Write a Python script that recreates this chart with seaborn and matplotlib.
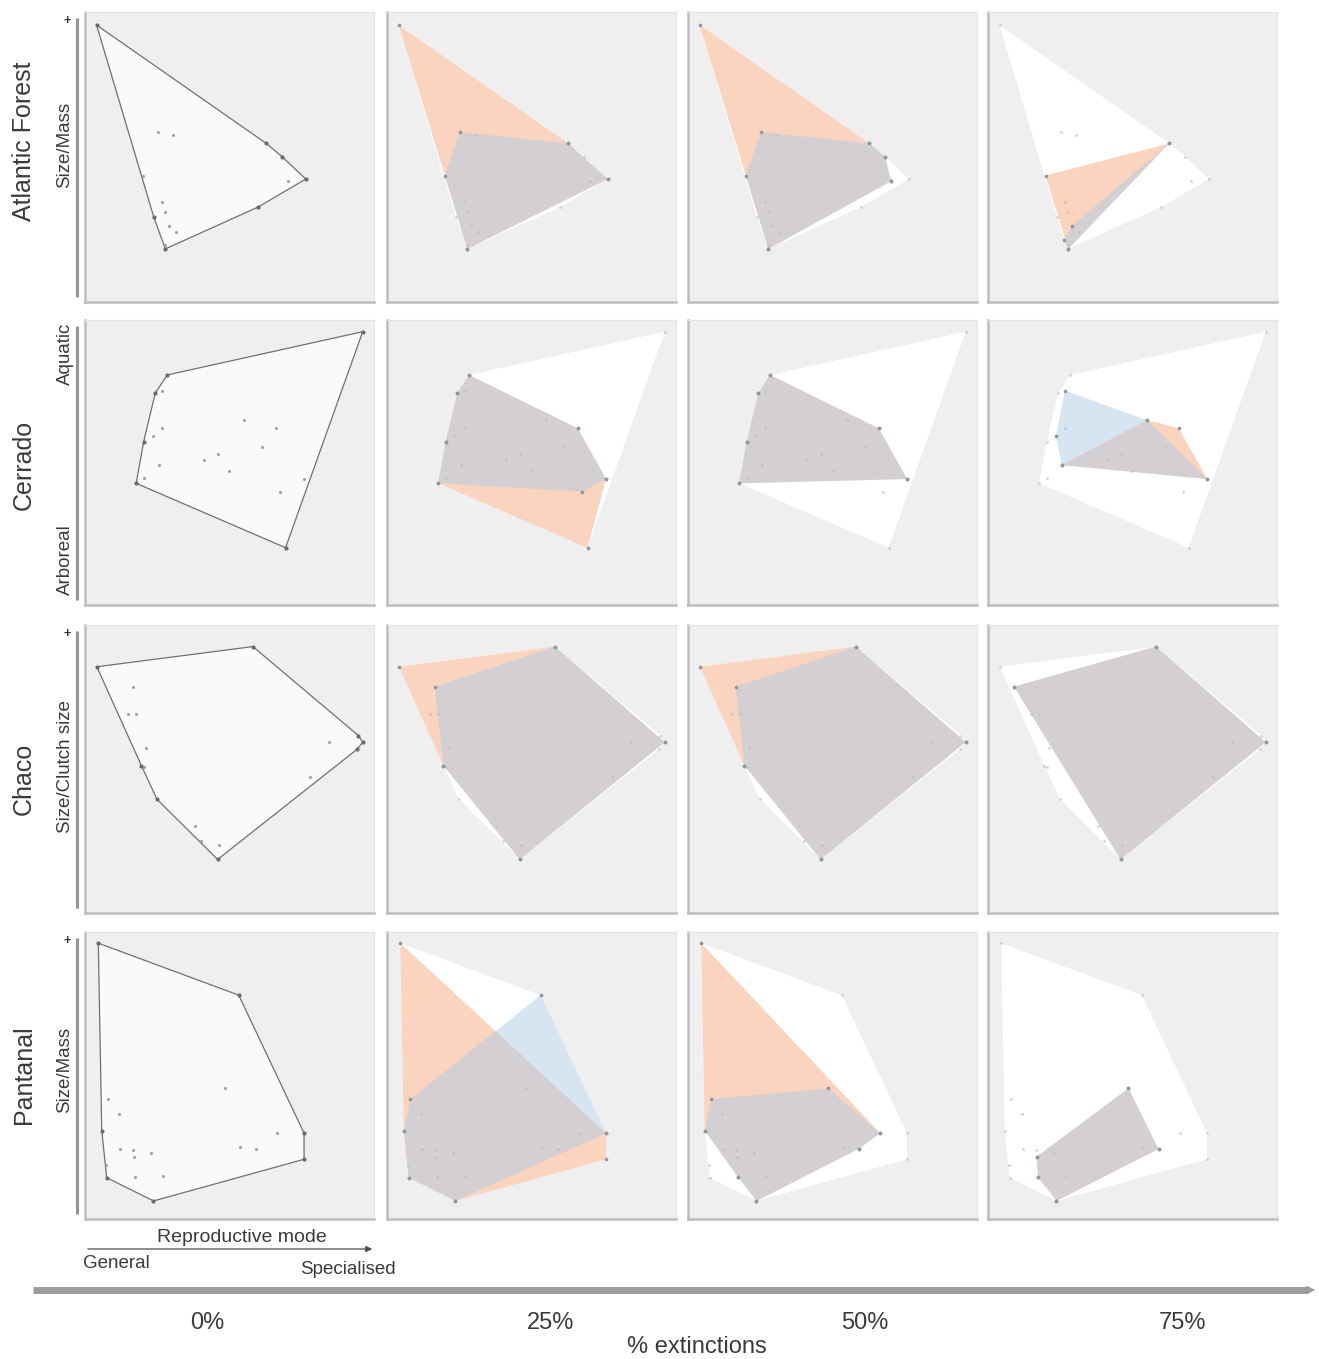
import matplotlib
matplotlib.use("Agg")
import matplotlib.pyplot as plt
import seaborn as sns
import numpy as np
import pandas as pd

sns.set_theme(style="white")
plt.rcParams['font.family'] = ['Liberation Sans', 'DejaVu Sans']

# ---------------------------------------------------------------- data
regions = ["Atlantic Forest", "Cerrado", "Chaco", "Pantanal"]
levels = ["0%", "25%", "50%", "75%"]
y_axis_names = ["Size/Mass", None, "Size/Clutch size", "Size/Mass"]

# species positions in the (reproductive mode, size) trait space, scaled 0-1
af_x = [0.040, 0.627, 0.682, 0.764, 0.703, 0.600, 0.278, 0.276, 0.238, 0.252, 0.303, 0.199, 0.268, 0.278, 0.291, 0.314]
af_y = [0.955, 0.547, 0.501, 0.424, 0.417, 0.328, 0.183, 0.197, 0.293, 0.586, 0.576, 0.436, 0.346, 0.311, 0.263, 0.242]

ce_x = [0.961, 0.284, 0.243, 0.203, 0.177, 0.694, 0.266, 0.235, 0.255, 0.203, 0.550, 0.660, 0.613, 0.459, 0.498, 0.758, 0.675, 0.411, 0.266]
ce_y = [0.959, 0.807, 0.743, 0.573, 0.427, 0.201, 0.620, 0.593, 0.491, 0.445, 0.649, 0.620, 0.555, 0.529, 0.470, 0.442, 0.398, 0.509, 0.752]

ch_x = [0.041, 0.581, 0.946, 0.961, 0.941, 0.459, 0.249, 0.150, 0.177, 0.212, 0.203, 0.380, 0.403, 0.465, 0.845, 0.779, 0.165, 0.195]
ch_y = [0.855, 0.925, 0.616, 0.593, 0.568, 0.186, 0.395, 0.690, 0.690, 0.574, 0.508, 0.303, 0.250, 0.236, 0.595, 0.473, 0.786, 0.512]

pa_x = [0.046, 0.532, 0.758, 0.758, 0.237, 0.075, 0.073, 0.058, 0.081, 0.116, 0.122, 0.166, 0.168, 0.229, 0.174, 0.270, 0.486, 0.538, 0.590, 0.665]
pa_y = [0.961, 0.780, 0.299, 0.208, 0.063, 0.144, 0.188, 0.308, 0.418, 0.366, 0.243, 0.240, 0.217, 0.229, 0.145, 0.151, 0.455, 0.250, 0.244, 0.299]

# surviving-community trait points (hull corners) for the two extinction scenarios
af_orange_25 = [(0.040, 0.955), (0.627, 0.547), (0.764, 0.424), (0.278, 0.183)]
af_blue_25 = [(0.252, 0.586), (0.627, 0.547), (0.764, 0.424), (0.278, 0.183), (0.199, 0.436)]
af_orange_50 = [(0.040, 0.955), (0.627, 0.547), (0.682, 0.501), (0.703, 0.417), (0.278, 0.183)]
af_blue_50 = [(0.252, 0.586), (0.627, 0.547), (0.682, 0.501), (0.703, 0.417), (0.278, 0.183), (0.199, 0.436)]
af_orange_75 = [(0.199, 0.436), (0.627, 0.547), (0.278, 0.183)]
af_blue_75 = [(0.627, 0.547), (0.278, 0.183), (0.262, 0.215), (0.291, 0.263)]

ce_orange_25 = [(0.284, 0.807), (0.550, 0.649), (0.660, 0.620), (0.758, 0.442), (0.694, 0.201), (0.177, 0.427), (0.203, 0.573), (0.243, 0.743)]
ce_blue_25 = [(0.284, 0.807), (0.550, 0.649), (0.660, 0.620), (0.758, 0.442), (0.675, 0.398), (0.177, 0.427), (0.203, 0.573), (0.243, 0.743)]
ce_orange_50 = [(0.284, 0.807), (0.550, 0.649), (0.660, 0.620), (0.758, 0.442), (0.177, 0.427), (0.203, 0.573), (0.243, 0.743)]
ce_blue_50 = [(0.284, 0.807), (0.550, 0.649), (0.660, 0.620), (0.758, 0.442), (0.177, 0.427), (0.203, 0.573), (0.243, 0.743)]
ce_orange_75 = [(0.255, 0.491), (0.550, 0.649), (0.660, 0.620), (0.758, 0.442)]
ce_blue_75 = [(0.266, 0.752), (0.550, 0.649), (0.758, 0.442), (0.255, 0.491), (0.235, 0.593)]

ch_orange_25 = [(0.041, 0.855), (0.581, 0.925), (0.961, 0.593), (0.459, 0.186), (0.195, 0.512)]
ch_blue_25 = [(0.165, 0.786), (0.581, 0.925), (0.961, 0.593), (0.459, 0.186), (0.195, 0.512)]
ch_orange_50 = [(0.041, 0.855), (0.581, 0.925), (0.961, 0.593), (0.459, 0.186), (0.195, 0.512)]
ch_blue_50 = [(0.165, 0.786), (0.581, 0.925), (0.961, 0.593), (0.459, 0.186), (0.195, 0.512)]
ch_orange_75 = [(0.090, 0.786), (0.581, 0.925), (0.961, 0.593), (0.459, 0.186)]
ch_blue_75 = [(0.090, 0.786), (0.581, 0.925), (0.961, 0.593), (0.459, 0.186)]

pa_orange_25 = [(0.046, 0.961), (0.758, 0.299), (0.758, 0.208), (0.237, 0.063), (0.075, 0.144), (0.073, 0.188), (0.058, 0.308)]
pa_blue_25 = [(0.081, 0.418), (0.532, 0.780), (0.758, 0.299), (0.237, 0.063), (0.075, 0.144), (0.073, 0.188), (0.058, 0.308)]
pa_orange_50 = [(0.046, 0.961), (0.665, 0.299), (0.590, 0.244), (0.237, 0.063), (0.174, 0.145), (0.058, 0.308)]
pa_blue_50 = [(0.081, 0.418), (0.486, 0.455), (0.665, 0.299), (0.590, 0.244), (0.237, 0.063), (0.174, 0.145), (0.058, 0.308)]
pa_orange_75 = [(0.486, 0.455), (0.590, 0.244), (0.237, 0.063), (0.174, 0.145), (0.168, 0.217)]
pa_blue_75 = [(0.486, 0.455), (0.590, 0.244), (0.237, 0.063), (0.174, 0.145), (0.168, 0.217)]

species = {
    "Atlantic Forest": (af_x, af_y),
    "Cerrado": (ce_x, ce_y),
    "Chaco": (ch_x, ch_y),
    "Pantanal": (pa_x, pa_y),
}
scenarios = {
    "Atlantic Forest": [(af_orange_25, af_blue_25), (af_orange_50, af_blue_50), (af_orange_75, af_blue_75)],
    "Cerrado": [(ce_orange_25, ce_blue_25), (ce_orange_50, ce_blue_50), (ce_orange_75, ce_blue_75)],
    "Chaco": [(ch_orange_25, ch_blue_25), (ch_orange_50, ch_blue_50), (ch_orange_75, ch_blue_75)],
    "Pantanal": [(pa_orange_25, pa_blue_25), (pa_orange_50, pa_blue_50), (pa_orange_75, pa_blue_75)],
}

# ---------------------------------------------------------------- helpers
def convex_hull(pts):
    pts = sorted(set(map(tuple, pts)))
    if len(pts) < 3:
        return pts

    def cross(o, a, b):
        return (a[0] - o[0]) * (b[1] - o[1]) - (a[1] - o[1]) * (b[0] - o[0])

    lower, upper = [], []
    for p in pts:
        while len(lower) >= 2 and cross(lower[-2], lower[-1], p) <= 0:
            lower.pop()
        lower.append(p)
    for p in reversed(pts):
        while len(upper) >= 2 and cross(upper[-2], upper[-1], p) <= 0:
            upper.pop()
        upper.append(p)
    return lower[:-1] + upper[:-1]


PANEL_BG = "#efefef"
ORANGE = "#f5a070"
BLUE = "#b0cbe6"

# ---------------------------------------------------------------- layout (pixels)
W_PX, H_PX = 1319, 1359
fig = plt.figure(figsize=(W_PX / 100, H_PX / 100), dpi=100)
fig.patch.set_facecolor("white")

col_left = [85, 387, 688, 988]
panel_w = 289
row_top = [12, 320, 625, 932]
row_h = [290, 285, 288, 287]
row_label_y = [141, 465, 779, 1075]
axis_label_y = [145, None, 767, 1070]


def style_panel(ax):
    ax.set_facecolor(PANEL_BG)
    ax.set_xlim(0, 1)
    ax.set_ylim(0, 1)
    ax.set_xticks([])
    ax.set_yticks([])
    for side in ("left", "bottom"):
        ax.spines[side].set_color("#bdbdbd")
        ax.spines[side].set_linewidth(1.8)
    for side in ("top", "right"):
        ax.spines[side].set_color("#e4e4e4")
        ax.spines[side].set_linewidth(0.8)


for r, region in enumerate(regions):
    sx, sy = species[region]
    pts = list(zip(sx, sy))
    full_hull = convex_hull(pts)
    hx = [p[0] for p in full_hull]
    hy = [p[1] for p in full_hull]
    df = pd.DataFrame({"mode": sx, "size": sy})

    for c, lev in enumerate(levels):
        left = col_left[c] / W_PX
        bottom = 1 - (row_top[r] + row_h[r]) / H_PX
        ax = fig.add_axes([left, bottom, panel_w / W_PX, row_h[r] / H_PX])
        style_panel(ax)

        if c == 0:
            ax.fill(hx, hy, facecolor="#fafafa", edgecolor="#707070", lw=0.9, zorder=1)
            sns.scatterplot(data=df, x="mode", y="size", ax=ax, s=5, color="#a0a0a0",
                            linewidth=0, legend=False, zorder=3)
            hv = pd.DataFrame({"mode": hx, "size": hy})
            sns.scatterplot(data=hv, x="mode", y="size", ax=ax, s=9, color="#6a6a6a",
                            linewidth=0, legend=False, zorder=4)
        else:
            orange_pts, blue_pts = scenarios[region][c - 1]
            ax.fill(hx, hy, facecolor="white", edgecolor="none", zorder=1)
            oh = convex_hull(orange_pts)
            bh = convex_hull(blue_pts)
            ax.fill([p[0] for p in oh], [p[1] for p in oh], facecolor=ORANGE,
                    alpha=0.45, edgecolor="none", zorder=2)
            ax.fill([p[0] for p in bh], [p[1] for p in bh], facecolor=BLUE,
                    alpha=0.5, edgecolor="none", zorder=3)
            sns.scatterplot(data=df, x="mode", y="size", ax=ax, s=4, color="#b8b8b8",
                            linewidth=0, legend=False, zorder=4, alpha=0.6)
            verts = pd.DataFrame({"mode": [p[0] for p in oh + bh],
                                  "size": [p[1] for p in oh + bh]})
            sns.scatterplot(data=verts, x="mode", y="size", ax=ax, s=7, color="#8f9a9e",
                            linewidth=0, legend=False, zorder=5)
        ax.set_xlabel("")
        ax.set_ylabel("")

# ---------------------------------------------------------------- annotations (pixel overlay)
ov = fig.add_axes([0, 0, 1, 1], zorder=-1)
ov.set_xlim(0, W_PX)
ov.set_ylim(H_PX, 0)
ov.axis("off")

TXT = "#3a3a3a"
for r, region in enumerate(regions):
    top = row_top[r]
    bot = row_top[r] + row_h[r]
    ov.text(24, row_label_y[r], region, rotation=90, ha="center", va="center",
            fontsize=18, color=TXT)
    ov.plot([77, 77], [top + 6, bot - 5], color="#959595", lw=2.2, solid_capstyle="butt")
    if y_axis_names[r] is not None:
        ov.text(65, axis_label_y[r], y_axis_names[r], rotation=90, ha="center",
                va="center", fontsize=13.5, color=TXT)
        ov.text(67, top + 9, "+", ha="center", va="center", fontsize=9,
                color="#333333", fontweight="bold")
    else:
        ov.text(65, top + 34, "Aquatic", rotation=90, ha="center", va="center",
                fontsize=13.5, color=TXT)
        ov.text(65, bot - 45, "Arboreal", rotation=90, ha="center", va="center",
                fontsize=13.5, color=TXT)

# x-axis trait arrow under the first column
ov.annotate("", xy=(375, 1249), xytext=(85, 1249),
            arrowprops=dict(arrowstyle="-|>", color="#4a4a4a", lw=0.9, mutation_scale=9))
ov.text(242, 1238, "Reproductive mode", ha="center", va="center", fontsize=14, color=TXT)
ov.text(83, 1264, "General", ha="left", va="center", fontsize=13.5, color=TXT)
ov.text(300, 1269, "Specialised", ha="left", va="center", fontsize=13.5, color=TXT)

# extinction gradient arrow
ov.plot([33, 1308], [1290, 1290], color="#9c9c9c", lw=5, solid_capstyle="butt")
ov.annotate("", xy=(1318, 1290), xytext=(1300, 1290),
            arrowprops=dict(arrowstyle="-|>", color="#9c9c9c", lw=0.5, mutation_scale=14))
for xc, lev in zip([207, 551, 865, 1183], levels):
    ov.text(xc, 1323, lev, ha="center", va="center", fontsize=17, color=TXT)
ov.text(697, 1347, "% extinctions", ha="center", va="center", fontsize=17, color=TXT)

fig.savefig("out.png", dpi=100, facecolor="white")
